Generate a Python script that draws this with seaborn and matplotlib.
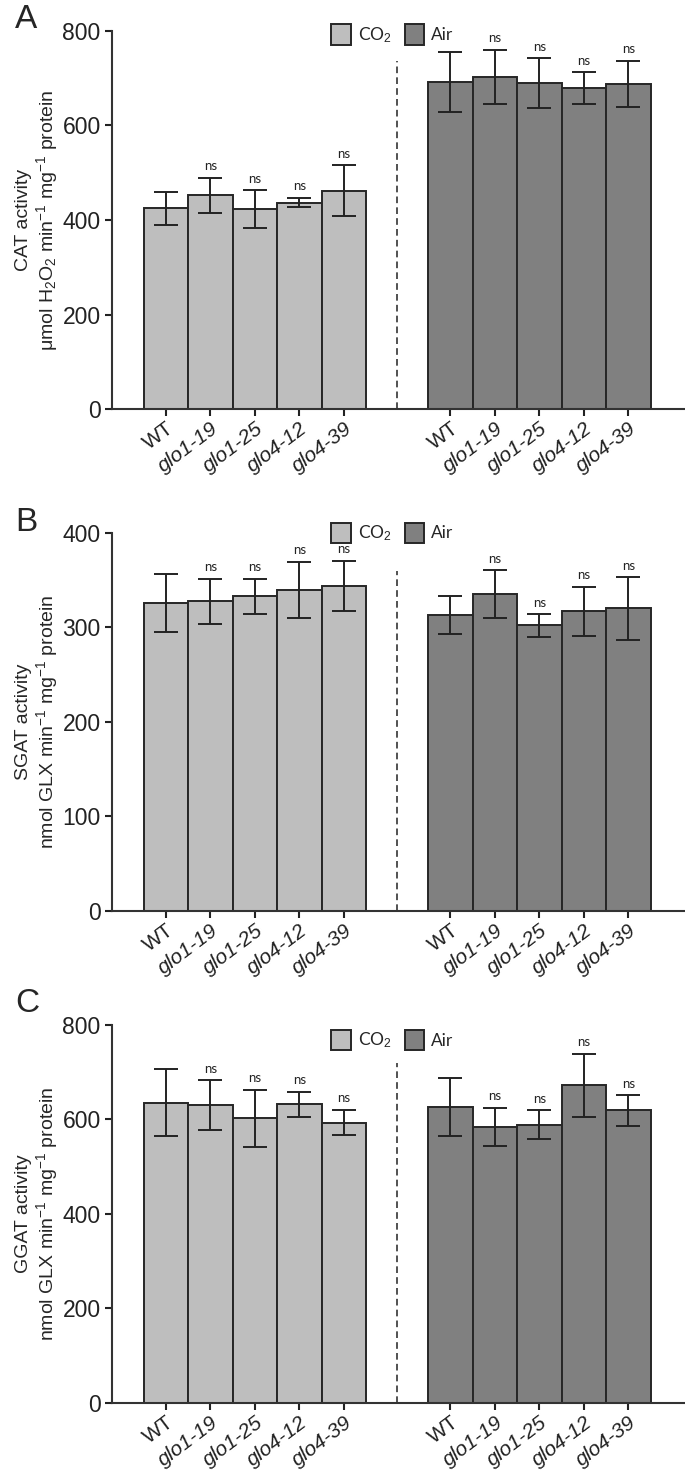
import numpy as np
import pandas as pd
import matplotlib
matplotlib.use("Agg")
import matplotlib.pyplot as plt
import seaborn as sns

# ------------------ Data ------------------
lines = ["WT", "glo1-19", "glo1-25", "glo4-12", "glo4-39"]
groups = ["CO$_2$", "Air"]

cat_co2 = [425, 452, 423, 437, 462]
cat_co2_sd = [35, 37, 40, 10, 54]
cat_air = [692, 703, 690, 679, 688]
cat_air_sd = [64, 57, 52, 34, 49]

sgat_co2 = [325.7, 327.4, 333, 339.6, 344]
sgat_co2_sd = [31, 24, 18.6, 29.7, 26.4]
sgat_air = [312.8, 335.4, 302, 317, 320]
sgat_air_sd = [20.3, 25, 11.7, 26, 33]

ggat_co2 = [635, 630, 602, 632, 593]
ggat_co2_sd = [71, 53, 61, 26, 27]
ggat_air = [626, 584, 589, 672, 619]
ggat_air_sd = [62, 40, 30, 67, 32]

# "ns" shown for every mutant line, not for WT
ns_flags = [False, True, True, True, True]

panels = [
    ("A", "CAT activity\nμmol H$_2$O$_2$ min$^{-1}$ mg$^{-1}$ protein",
     cat_co2, cat_co2_sd, cat_air, cat_air_sd, [0, 200, 400, 600, 800]),
    ("B", "SGAT activity\nnmol GLX min$^{-1}$ mg$^{-1}$ protein",
     sgat_co2, sgat_co2_sd, sgat_air, sgat_air_sd, [0, 100, 200, 300, 400]),
    ("C", "GGAT activity\nnmol GLX min$^{-1}$ mg$^{-1}$ protein",
     ggat_co2, ggat_co2_sd, ggat_air, ggat_air_sd, [0, 200, 400, 600, 800]),
]

# ------------------ Style ------------------
sns.set_style("ticks")
plt.rcParams["font.family"] = ["Liberation Sans", "DejaVu Sans"]
plt.rcParams["mathtext.fontset"] = "custom"
plt.rcParams["mathtext.rm"] = "Liberation Sans"
plt.rcParams["mathtext.it"] = "Liberation Sans:italic"
plt.rcParams["axes.linewidth"] = 1.5
plt.rcParams["axes.edgecolor"] = "#333333"

palette = {"CO$_2$": "#bebebe", "Air": "#808080"}
edge = "#262626"

# x layout (bar width = 1 unit)
co2_pos = np.arange(5) + 1.2
air_pos = np.arange(5) + 7.6
divider = (co2_pos[-1] + air_pos[0]) / 2
x_max = 12.85

fig = plt.figure(figsize=(6.85, 14.74), dpi=100)
ax_rects = [
    [0.1642, 0.7225, 0.8343, 0.2565],
    [0.1642, 0.3820, 0.8343, 0.2565],
    [0.1642, 0.0482, 0.8343, 0.2565],
]
legend_y = [0.99, 1.0, 0.96]
letter_y = [0.997, 0.656, 0.330]
divider_top = [0.92, 0.90, 0.90]

for i, (letter, ylabel, v_co2, s_co2, v_air, s_air, yticks) in enumerate(panels):
    ax = fig.add_axes(ax_rects[i])

    df = pd.DataFrame({
        "pos": np.concatenate([co2_pos, air_pos]),
        "value": v_co2 + v_air,
        "sd": s_co2 + s_air,
        "group": [groups[0]] * 5 + [groups[1]] * 5,
        "ns": ns_flags + ns_flags,
    })

    sns.barplot(data=df, x="pos", y="value", hue="group", hue_order=groups,
                palette=palette, native_scale=True, dodge=False, width=1.0,
                edgecolor=edge, linewidth=1.4, errorbar=None, ax=ax)

    ax.errorbar(df["pos"], df["value"], yerr=df["sd"], fmt="none",
                ecolor="#222222", elinewidth=1.4, capsize=8.5, capthick=1.4)

    # ns labels above the error bars
    for _, row in df[df["ns"]].iterrows():
        ax.annotate("ns", (row["pos"], row["value"] + row["sd"]),
                    xytext=(0, 4), textcoords="offset points",
                    ha="center", va="bottom", fontsize=9.5, family="Lato",
                    color="#222222")

    ax.axvline(divider, ymin=0, ymax=divider_top[i], color="#333333",
               linestyle=(0, (4, 2.5)), linewidth=1.2)

    ax.set_xlim(0, x_max)
    ax.set_ylim(yticks[0], yticks[-1])
    ax.set_yticks(yticks)
    ax.set_xticks(df["pos"])
    ax.set_xticklabels(lines + lines, rotation=37, ha="right",
                       rotation_mode="anchor", fontsize=15)
    for lab in ax.get_xticklabels():
        if lab.get_text() != "WT":
            lab.set_fontstyle("italic")
    ax.tick_params(axis="y", labelsize=16.5, length=5, width=1.5, colors="#222222")
    ax.tick_params(axis="x", length=5, width=1.5, colors="#222222", pad=2)
    sns.despine(ax=ax)

    ax.set_xlabel("")
    ax.set_ylabel(ylabel, fontsize=14, linespacing=1.1)
    ax.yaxis.set_label_coords(-0.092, 0.5)

    sns.move_legend(ax, "center", bbox_to_anchor=(0.49, legend_y[i]),
                    ncol=2, frameon=False, title=None, fontsize=12.5,
                    handlelength=1.1, handleheight=1.4, handletextpad=0.4,
                    columnspacing=0.8)
    for t in ax.get_legend().get_texts():
        t.set_family("Lato")

    fig.text(0.022, letter_y[i], letter, fontsize=24, va="top", ha="left")

fig.savefig("out.png", dpi=100)
